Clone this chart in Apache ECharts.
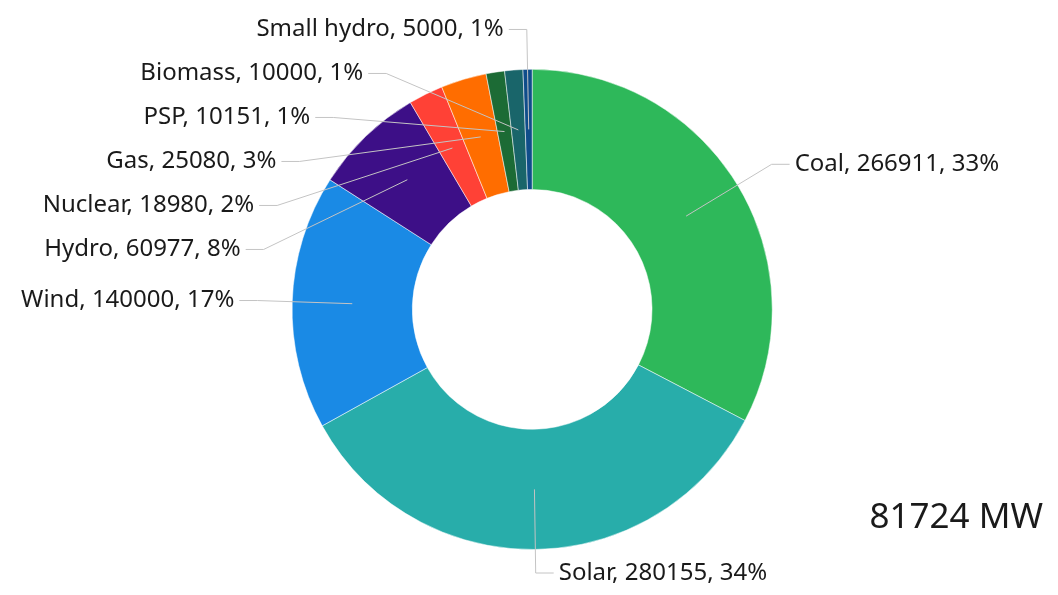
<!DOCTYPE html>
<html>
<head>
<meta charset="utf-8">
<script src="https://cdn.jsdelivr.net/npm/echarts@6/dist/echarts.min.js"></script>
<style>
  html, body { margin: 0; padding: 0; background: #fff; }
  #main { width: 1058px; height: 595px; }
</style>
</head>
<body>
<div id="main"></div>
<script>
// 装机容量 (MW)
var sources = ['Coal', 'Solar', 'Wind', 'Hydro', 'Nuclear', 'Gas', 'PSP', 'Biomass', 'Small hydro'];
var capacity = [266911, 280155, 140000, 60977, 18980, 25080, 10151, 10000, 5000];
var colors = ['#2eb85a', '#28adaa', '#1a8ae5', '#3d0f87', '#ff4136', '#ff6d00', '#1c6b35', '#19656a', '#0f4d8a'];
var totalText = '81724 MW';

var chart = echarts.init(document.getElementById('main'));

var pieData = sources.map(function (name, i) {
  return { name: name, value: capacity[i] };
});

var option = {
  color: colors,
  animation: false,
  title: {
    text: totalText,
    right: 10,
    top: 496,
    textStyle: {
      fontFamily: 'Noto Sans',
      fontWeight: 'normal',
      fontSize: 35,
      color: '#1a1a1a'
    }
  },
  series: [
    {
      // 环形
      type: 'pie',
      z: 1,
      center: ['50.3%', '52%'],
      radius: ['40.3%', '80.7%'],
      startAngle: 90,
      clockwise: true,
      silent: true,
      itemStyle: { borderColor: '#fff', borderWidth: 0.5 },
      label: { show: false },
      labelLine: { show: false },
      data: pieData
    },
    {
      // 标签 (引线从环中间开始)
      type: 'pie',
      z: 5,
      center: ['50.3%', '52%'],
      radius: [0, '60.5%'],
      startAngle: 90,
      clockwise: true,
      silent: true,
      percentPrecision: 0,
      itemStyle: { color: 'rgba(0,0,0,0)' },
      label: {
        show: true,
        position: 'outside',
        formatter: '{b}, {c}, {d}%',
        fontFamily: 'Noto Sans',
        fontSize: 24,
        color: '#1a1a1a',
        minMargin: 20
      },
      labelLine: {
        show: true,
        length: 100,
        length2: 18,
        lineStyle: { color: '#c4c4c4', width: 1 }
      },
      data: pieData
    }
  ]
};

chart.setOption(option);
</script>
</body>
</html>
